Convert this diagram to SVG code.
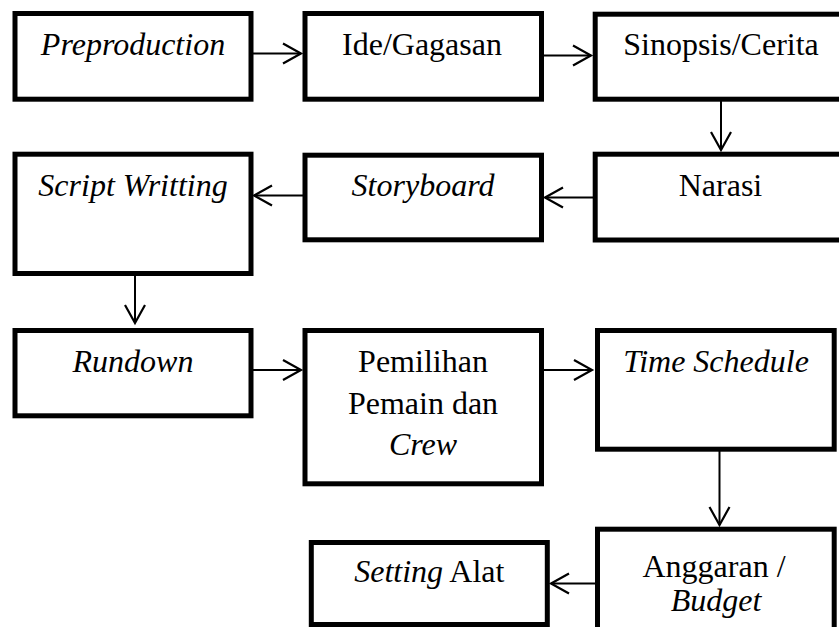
<svg xmlns="http://www.w3.org/2000/svg" width="839" height="627" viewBox="0 0 839 627">
<style>
  .box { fill: #fff; stroke: #000; stroke-width: 5; }
  .lbl { font-family: "Liberation Serif", "Times New Roman", serif; font-size: 32px; fill: #000; text-anchor: middle; }
  .it { font-style: italic; }
  .conn { stroke: #000; stroke-width: 2; fill: none; marker-end: url(#ah); }
</style>
<defs>
  <marker id="ah" markerUnits="userSpaceOnUse" orient="auto" overflow="visible" refX="0" refY="0" markerWidth="20" markerHeight="22">
    <path d="M-18,-10 L0,0 L-18,10" fill="none" stroke="#000" stroke-width="2.2"/>
  </marker>
</defs>
<rect width="839" height="627" fill="#fff"/>

<g id="connectors">
  <line class="conn" x1="253" y1="53.5" x2="301" y2="53.5"/>
  <line class="conn" x1="544" y1="55.5" x2="591" y2="55.5"/>
  <line class="conn" x1="721" y1="101" x2="721" y2="150"/>
  <line class="conn" x1="593" y1="197.5" x2="545" y2="197.5"/>
  <line class="conn" x1="303" y1="195.5" x2="254" y2="195.5"/>
  <line class="conn" x1="135" y1="276" x2="135" y2="323"/>
  <line class="conn" x1="253" y1="370" x2="301" y2="370"/>
  <line class="conn" x1="543" y1="370" x2="592" y2="370"/>
  <line class="conn" x1="719.5" y1="451" x2="719.5" y2="525"/>
  <line class="conn" x1="601" y1="583.5" x2="551" y2="583.5"/>
</g>

<g id="preproduction">
  <rect class="box" x="15" y="13.5" width="236" height="85.7"/>
  <text class="lbl it" x="133" y="55">Preproduction</text>
</g>
<g id="ide">
  <rect class="box" x="305" y="13.5" width="236.5" height="85.7"/>
  <text class="lbl" x="422" y="55">Ide/Gagasan</text>
</g>
<g id="sinopsis">
  <rect class="box" x="595.2" y="14.2" width="260" height="85"/>
  <text class="lbl" x="721" y="55">Sinopsis/Cerita</text>
</g>
<g id="narasi">
  <rect class="box" x="595.2" y="154.2" width="260" height="85.8"/>
  <text class="lbl" x="720.5" y="195.5">Narasi</text>
</g>
<g id="storyboard">
  <rect class="box" x="305" y="155.2" width="236.5" height="84.6"/>
  <text class="lbl it" x="423" y="195.5">Storyboard</text>
</g>
<g id="script-writting">
  <rect class="box" x="15" y="154.2" width="236" height="119.3"/>
  <text class="lbl it" x="133" y="195.5">Script Writting</text>
</g>
<g id="rundown">
  <rect class="box" x="15" y="330.5" width="236" height="85.3"/>
  <text class="lbl it" x="133" y="372">Rundown</text>
</g>
<g id="pemilihan">
  <rect class="box" x="305" y="330.5" width="236.5" height="153.3"/>
  <text class="lbl" x="423" y="372">Pemilihan</text>
  <text class="lbl" x="423" y="413.5">Pemain dan</text>
  <text class="lbl it" x="423" y="455">Crew</text>
</g>
<g id="time-schedule">
  <rect class="box" x="597.5" y="330.5" width="236.7" height="118.7"/>
  <text class="lbl it" x="716" y="372">Time Schedule</text>
</g>
<g id="anggaran">
  <rect class="box" x="597.5" y="529.2" width="236.7" height="160"/>
  <text class="lbl" x="714" y="577">Anggaran /</text>
  <text class="lbl it" x="716" y="611">Budget</text>
</g>
<g id="setting-alat">
  <rect class="box" x="311.3" y="542.5" width="236" height="82"/>
  <text class="lbl" x="429.3" y="582"><tspan class="it">Setting</tspan> Alat</text>
</g>
</svg>
